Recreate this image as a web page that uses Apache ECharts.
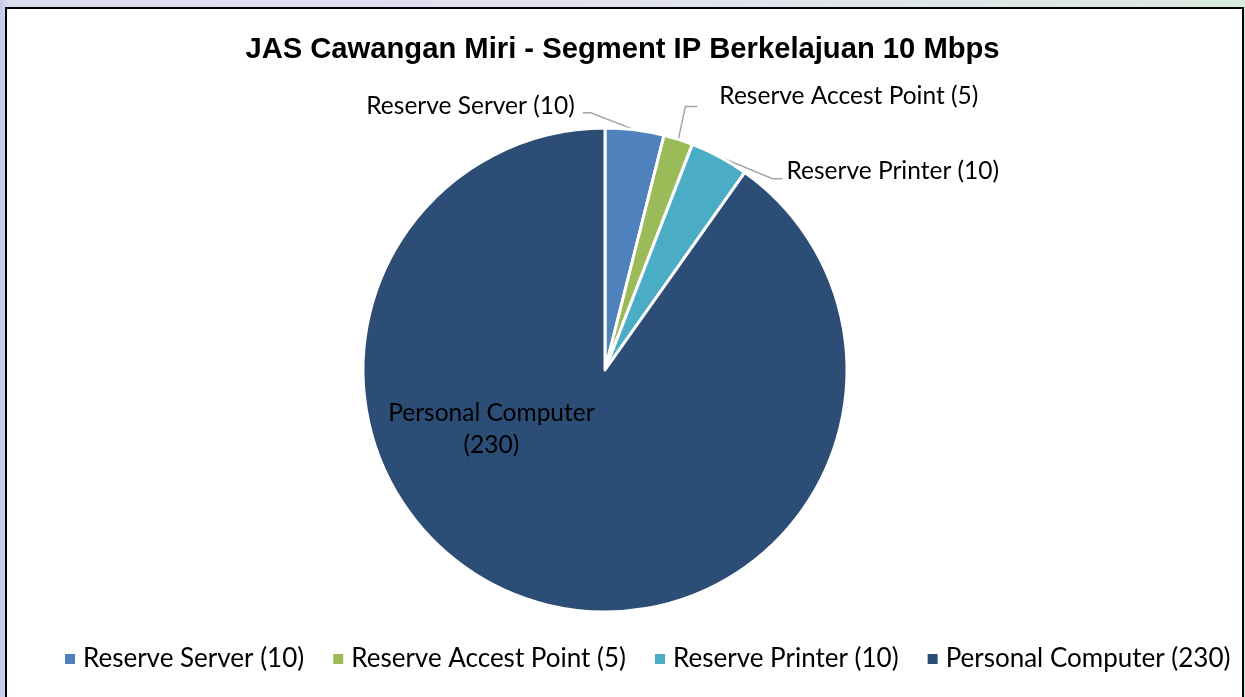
<!DOCTYPE html>
<html>
<head>
<meta charset="utf-8">
<script src="https://cdn.jsdelivr.net/npm/echarts@6/dist/echarts.min.js"></script>
<style>
    html, body { margin: 0; padding: 0; }
    body {
        width: 1245px; height: 697px; overflow: hidden; position: relative;
        background: linear-gradient(to right, #c3c9e6 0px, #dcdcef 8px, #e2e2f0 50%, #d8eadf 100%);
    }
    #frame {
        position: absolute; left: 5px; top: 7px; width: 1235px; height: 700px;
        border: 2px solid #000; background: #fff;
    }
    #main { position: absolute; left: 0; top: 0; width: 1245px; height: 697px; }
</style>
</head>
<body>
<div id="frame"></div>
<div id="main"></div>
<script>
var categories = ["Reserve Server (10)", "Reserve Accest Point (5)", "Reserve Printer (10)", "Personal Computer (230)"];
var labels = ["Reserve Server (10)", "Reserve Accest Point (5)", "Reserve Printer (10)", "Personal Computer\n(230)"];
var values = [10, 5, 10, 230];
var colors = ["#4f81bd", "#9bbb59", "#4bacc6", "#2c4d75"];

/* label placement, relative to the slice edge point */
var labelPlace = [
    { line: [[-44, -17], [-52, -17]], text: [-60, -24], align: "right" },
    { line: [[7, -33], [19, -33]], text: [41, -43], align: "left" },
    { line: [[53, 22], [63, 22]], text: [67, 14], align: "left" },
    null
];

var labelFont = "Lato";

var myChart = echarts.init(document.getElementById("main"), null, {renderer: "canvas"});

var seriesData = values.map(function (v, i) {
    var item = {
        name: categories[i],
        value: v,
        itemStyle: { color: colors[i] },
        label: { formatter: labels[i] }
    };
    if (i == 3) {
        item.label.position = "inside";
        item.labelLine = { show: false };
    }
    return item;
});

var option = {
    backgroundColor: "transparent",
    animation: false,
    title: {
        text: "JAS Cawangan Miri - Segment IP Berkelajuan 10 Mbps",
        left: "center",
        top: 30,
        textStyle: {
            fontFamily: "Liberation Sans",
            fontSize: 29.2,
            fontWeight: "bold",
            color: "#000",
        },
    },
    legend: {
        bottom: 20,
        left: 58,
        itemWidth: 12,
        itemHeight: 12,
        itemGap: 27,
        icon: "rect",
        textStyle: {
            fontFamily: labelFont,
            fontSize: 26,
            color: "#000",
            padding: [0, 0, 0, 2],
        },
        data: categories,
    },
    series: [{
        type: "pie",
        center: [605, 370],
        radius: 242,
        startAngle: 90,
        clockwise: true,
        itemStyle: {
            borderColor: "#fff",
            borderWidth: 3,
        },
        label: {
            show: true,
            position: "outside",
            fontFamily: labelFont,
            fontSize: 24.5,
            color: "#000",
            lineHeight: 32,
        },
        labelLine: {
            show: true,
            lineStyle: { color: "#a6a6a6", width: 1.5 },
        },
        labelLayout: function (params) {
            var p = labelPlace[params.dataIndex];
            if (!p) {
                return { dx: -76, dy: -59 };
            }
            var e = params.labelLinePoints[0];
            return {
                x: e[0] + p.text[0],
                y: e[1] + p.text[1],
                align: p.align,
                verticalAlign: "middle",
                labelLinePoints: [
                    [e[0], e[1]],
                    [e[0] + p.line[0][0], e[1] + p.line[0][1]],
                    [e[0] + p.line[1][0], e[1] + p.line[1][1]]
                ]
            };
        },
        data: seriesData,
    }],
};

myChart.setOption(option);
</script>
</body>
</html>
